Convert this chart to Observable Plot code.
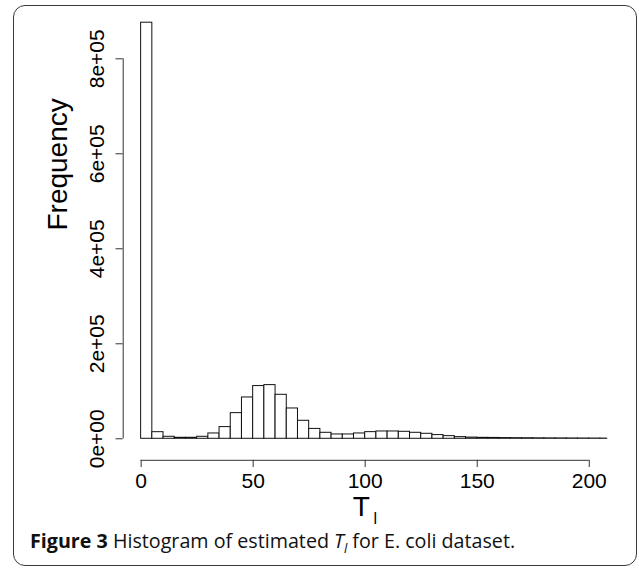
<!DOCTYPE html>
<html>
<head>
<meta charset="utf-8">
<script src="https://cdn.jsdelivr.net/npm/d3@7"></script>
<script src="https://cdn.jsdelivr.net/npm/@observablehq/plot@0.6"></script>
<style>
  html, body { margin: 0; padding: 0; background: #fff; }
  #wrap { position: relative; width: 639px; height: 570px; overflow: hidden; }
  #frame { position: absolute; left: 13px; top: 5px; width: 624px; height: 561px;
           border: 1.5px solid #3a3a3a; border-radius: 12px; box-sizing: border-box; }
  #chart { position: absolute; left: 0; top: 0; }
  #caption { position: absolute; left: 30px; top: 533px; font-family: "Open Sans", sans-serif;
             font-size: 19.7px; line-height: 15px; color: #111; white-space: nowrap; }
  #caption b { font-weight: 700; }
</style>
</head>
<body>
<div id="wrap">
  <div id="frame"></div>
  <div id="chart"></div>
  <div id="caption"><b>Figure 3</b> Histogram of estimated <i>T<sub style="font-size:13px; line-height:0">l</sub></i> for E. coli dataset.</div>
</div>
<script>
// Histogram bins (width 5) and counts
const binStart = [0,5,10,15,20,25,30,35,40,45,50,55,60,65,70,75,80,85,90,95,100,
                  105,110,115,120,125,130,135,140,145,150,155,160,165,170,175,180,185,190,195,200,205];
const binWidth = 5;
const counts = [876000,13900,4200,2100,2100,4200,11200,24600,54000,87000,111000,113000,
                92600,63800,37900,20800,12600,9100,9100,11200,14000,15400,15400,14700,
                12600,10500,7800,5600,3500,2500,2000,1800,1500,1300,1200,1000,900,800,700,600,500,400];
const xTicks = [0, 50, 100, 150, 200];
const yTicks = [0, 200000, 400000, 600000, 800000];
const yTickLabels = ["0e+00", "2e+05", "4e+05", "6e+05", "8e+05"];
const xDomain = [-8, 208];
const yDomain = [-45300, 880000];

const bins = binStart.map((s, i) => ({x1: s, x2: Math.min(s + binWidth, xDomain[1]), y: counts[i]}));
const yLab = yTicks.map((v, i) => ({v, label: yTickLabels[i]}));

const chart = Plot.plot({
  width: 639,
  height: 533,
  marginLeft: 122.7,
  marginRight: 32.3,
  marginTop: 20.3,
  marginBottom: 73.2,
  style: {fontFamily: "'Liberation Sans', Arial, sans-serif", color: "#000", background: "transparent"},
  x: {type: "linear", domain: xDomain, axis: null},
  y: {type: "linear", domain: yDomain, axis: null},
  marks: [
    Plot.rectY(bins, {x1: "x1", x2: "x2", y1: 0, y2: "y", fill: "white", stroke: "#111", strokeWidth: 1}),
    // y axis (R style: line spans first to last tick)
    Plot.ruleX([xDomain[0]], {y1: yTicks[0], y2: yTicks[yTicks.length - 1], stroke: "#333", strokeWidth: 1}),
    Plot.axisY(yTicks, {anchor: "left", tickSize: 7.2, tickFormat: () => "", label: null, stroke: "#333"}),
    Plot.text(yLab, {y: "v", x: xDomain[0], text: "label", rotate: -90, dx: -26, fontSize: 21, textAnchor: "middle", lineAnchor: "middle", fill: "#000"}),
    // x axis
    Plot.ruleY([yDomain[0]], {x1: xTicks[0], x2: xTicks[xTicks.length - 1], stroke: "#333", strokeWidth: 1}),
    Plot.axisX(xTicks, {anchor: "bottom", tickSize: 7.2, tickPadding: 6, fontSize: 21, label: null, stroke: "#333"}),
    // axis titles
    Plot.text(["Frequency"], {frameAnchor: "left", dx: -65, dy: -10, rotate: -90, fontSize: 28, fill: "#000"}),
    Plot.text(["T"], {frameAnchor: "bottom", dx: -4, dy: 56, fontSize: 28, fill: "#000"}),
    Plot.text(["l"], {frameAnchor: "bottom", dx: 10, dy: 64, fontSize: 16, fill: "#000"})
  ]
});
document.getElementById("chart").appendChild(chart);
</script>
</body>
</html>
